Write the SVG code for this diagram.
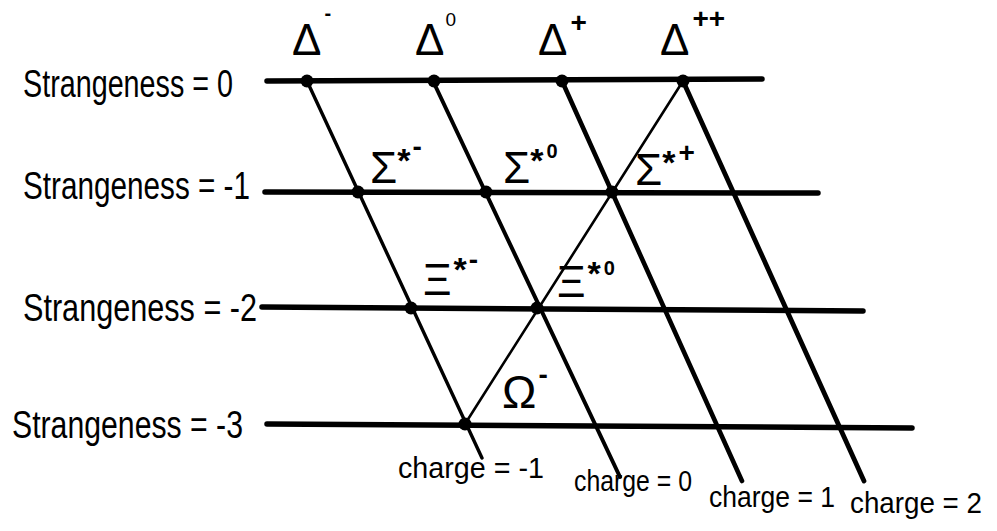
<svg xmlns="http://www.w3.org/2000/svg" width="997" height="531" viewBox="0 0 997 531">
  <style>
    .row { stroke: #000; stroke-width: 5.5; stroke-linecap: round; fill: none; }
    .chg { stroke: #000; stroke-width: 4; stroke-linecap: round; fill: none; }
    .thin { stroke: #000; stroke-width: 2.6; stroke-linecap: round; fill: none; }
    .dot { fill: #000; }
    .big { font-family: "Liberation Sans", "DejaVu Sans", sans-serif; font-size: 44px; fill: #000; }
    .sup { font-size: 28px; font-weight: bold; }
    .ast { font-size: 34px; font-weight: bold; }
    .lbl { font-family: "Liberation Sans", "DejaVu Sans", sans-serif; font-size: 38px; fill: #000; }
    .chl { font-family: "Liberation Sans", "DejaVu Sans", sans-serif; font-size: 29px; fill: #000; }
  </style>
  <rect width="997" height="531" fill="#fff"/>

  <g id="connectors">
    <line class="row" x1="267" y1="81" x2="762" y2="79"/>
    <line class="row" x1="265" y1="192" x2="818" y2="193"/>
    <line class="row" x1="262" y1="307" x2="863" y2="311"/>
    <line class="row" x1="267" y1="424" x2="912" y2="428"/>
    <line class="chg" style="stroke-width:3.4" x1="307" y1="81" x2="482" y2="458"/>
    <line class="chg" x1="433" y1="81" x2="620" y2="477"/>
    <line class="chg" style="stroke-width:4.6" x1="562" y1="81" x2="742" y2="481"/>
    <line class="chg" style="stroke-width:4.8" x1="683" y1="81" x2="864" y2="481"/>
    <line class="thin" x1="683" y1="81" x2="465" y2="424"/>
  </g>

  <g id="row-labels">
    <text class="lbl" x="23" y="97" textLength="210" lengthAdjust="spacingAndGlyphs">Strangeness = 0</text>
    <text class="lbl" x="23" y="199" textLength="227" lengthAdjust="spacingAndGlyphs">Strangeness = -1</text>
    <text class="lbl" x="23" y="321" textLength="234" lengthAdjust="spacingAndGlyphs">Strangeness = -2</text>
    <text class="lbl" x="12" y="438" textLength="231" lengthAdjust="spacingAndGlyphs">Strangeness = -3</text>
  </g>

  <g id="charge-labels">
    <text class="chl" x="398" y="478" textLength="146" lengthAdjust="spacingAndGlyphs">charge = -1</text>
    <text class="chl" x="574" y="491" textLength="118" lengthAdjust="spacingAndGlyphs">charge = 0</text>
    <text class="chl" x="709" y="507" textLength="126" lengthAdjust="spacingAndGlyphs">charge = 1</text>
    <text class="chl" x="850" y="513" textLength="132" lengthAdjust="spacingAndGlyphs">charge = 2</text>
  </g>

  <g id="delta-minus">
    <circle class="dot" cx="307" cy="81" r="6.5"/>
    <text class="big" x="292" y="55">Δ<tspan class="sup" dx="3" dy="-35" style="font-size:20px">-</tspan></text>
  </g>
  <g id="delta-zero">
    <circle class="dot" cx="434" cy="81" r="6.5"/>
    <text class="big" x="415" y="55">Δ<tspan class="sup" dx="1" dy="-29" style="font-size:19px;font-weight:normal">0</tspan></text>
  </g>
  <g id="delta-plus">
    <circle class="dot" cx="562" cy="81" r="6.5"/>
    <text class="big" x="538" y="55">Δ<tspan class="sup" dx="3" dy="-23">+</tspan></text>
  </g>
  <g id="delta-plusplus">
    <circle class="dot" cx="683" cy="81" r="6.5"/>
    <text class="big" x="660" y="55">Δ<tspan class="sup" dx="3" dy="-27">++</tspan></text>
  </g>

  <g id="sigma-minus">
    <circle class="dot" cx="358" cy="192" r="6.5"/>
    <text class="big" x="370" y="183">Σ<tspan class="ast" dy="-11">*</tspan><tspan class="sup" dx="2" dy="-16">-</tspan></text>
  </g>
  <g id="sigma-zero">
    <circle class="dot" cx="486" cy="192" r="6.5"/>
    <text class="big" x="503" y="183">Σ<tspan class="ast" dy="-11">*</tspan><tspan class="sup" dx="3" dy="-14" style="font-size:20px">0</tspan></text>
  </g>
  <g id="sigma-plus">
    <circle class="dot" cx="612" cy="192" r="6.5"/>
    <text class="big" x="635" y="185">Σ<tspan class="ast" dy="-11">*</tspan><tspan class="sup" dx="3" dy="-12">+</tspan></text>
  </g>

  <g id="xi-minus">
    <circle class="dot" cx="411" cy="308" r="6.5"/>
    <text class="big" x="423" y="295">Ξ<tspan class="ast" dx="2" dy="-14">*</tspan><tspan class="sup" dx="2" dy="-12">-</tspan></text>
  </g>
  <g id="xi-zero">
    <circle class="dot" cx="537" cy="308" r="6.5"/>
    <text class="big" x="557" y="297">Ξ<tspan class="ast" dx="2" dy="-12">*</tspan><tspan class="sup" dx="3" dy="-10" style="font-size:20px">0</tspan></text>
  </g>

  <g id="omega-minus">
    <circle class="dot" cx="465" cy="424" r="6.5"/>
    <text class="big" x="502" y="408" style="font-size:46px">Ω<tspan class="sup" dx="2" dy="-24">-</tspan></text>
  </g>
</svg>
